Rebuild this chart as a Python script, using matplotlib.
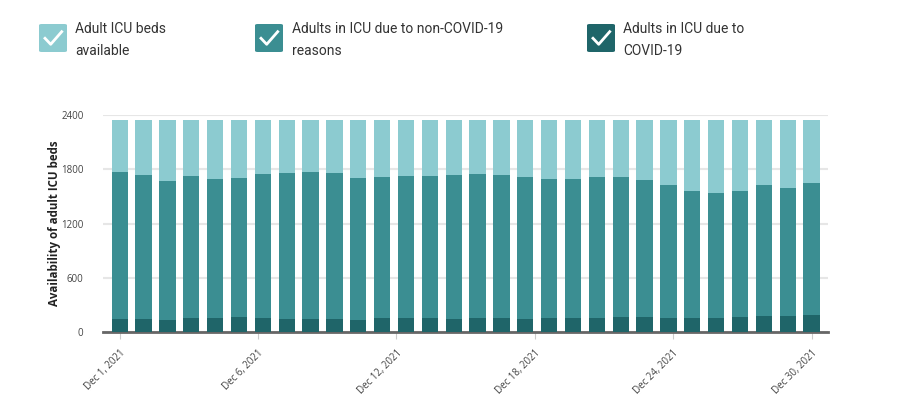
import matplotlib
matplotlib.use("Agg")
import matplotlib.pyplot as plt
from matplotlib.patches import FancyBboxPatch
from matplotlib.lines import Line2D

plt.rcParams['font.family'] = ['Open Sans', 'DejaVu Sans']

# data (Dec 1 - Dec 30, 2021)
days = list(range(1, 31))
covid = [144, 144, 133, 155, 155, 163, 152, 144, 144, 144, 130, 152, 155, 155, 141,
         152, 152, 141, 155, 152, 152, 163, 163, 155, 152, 152, 166, 177, 177, 185]
non_covid = [1629, 1592, 1540, 1567, 1534, 1544, 1599, 1618, 1629, 1618, 1573, 1562, 1570, 1574, 1595,
             1599, 1584, 1573, 1537, 1540, 1566, 1555, 1521, 1474, 1407, 1385, 1389, 1448, 1419, 1463]
available = [572, 609, 672, 623, 656, 638, 594, 583, 572, 583, 642, 631, 620, 616, 609,
             594, 609, 631, 653, 653, 627, 627, 661, 716, 786, 808, 790, 720, 749, 697]
tick_pos = [0, 5.8, 11.6, 17.4, 23.2, 29]
tick_labels = ["Dec 1, 2021", "Dec 6, 2021", "Dec 12, 2021", "Dec 18, 2021", "Dec 24, 2021", "Dec 30, 2021"]
yticks = [0, 600, 1200, 1800, 2400]

c_light = "#8ccbd0"
c_mid = "#3b8e92"
c_dark = "#1f6569"

W, H = 908, 408
fig = plt.figure(figsize=(W / 100, H / 100), dpi=100)
ax = fig.add_axes([103 / W, 1 - 332 / H, (828 - 103) / W, (332 - 115) / H])

x = list(range(len(days)))
bw = 0.68
bottom2 = [a + b for a, b in zip(covid, non_covid)]
ax.bar(x, covid, width=bw, color=c_dark, zorder=3)
ax.bar(x, non_covid, width=bw, bottom=covid, color=c_mid, zorder=3)
ax.bar(x, available, width=bw, bottom=bottom2, color=c_light, zorder=3)

ax.set_xlim(-0.7, 29.69)
ax.set_ylim(0, 2400)
ax.set_yticks(yticks)
ax.set_yticklabels([str(v) for v in yticks], fontsize=7, color="#444444")
ax.set_xticks(tick_pos)
ax.set_xticklabels(tick_labels, fontsize=7, color="#444444", rotation=45,
                   ha="right", va="top", rotation_mode="anchor")
ax.tick_params(axis="y", length=0, pad=14)
ax.tick_params(axis="x", length=5, color="#cccccc", pad=6)
ax.yaxis.grid(True, color="#e6e6e6", linewidth=1.5, zorder=0)
for s in ["left", "right", "top"]:
    ax.spines[s].set_visible(False)
ax.spines["bottom"].set_color("#666666")
ax.spines["bottom"].set_linewidth(2)
ax.set_ylabel("Availability of adult ICU beds", fontsize=8.3, fontweight="bold",
              color="#222222", labelpad=0)

# legend: checkbox squares with labels
items = [
    (39, c_light, 75, ["Adult ICU beds", "available"]),
    (255, c_mid, 292, ["Adults in ICU due to non-COVID-19", "reasons"]),
    (587, c_dark, 623, ["Adults in ICU due to", "COVID-19"]),
]
for sx, col, tx, lines in items:
    box = FancyBboxPatch((sx / W, 1 - 52 / H), 28 / W, 28 / H,
                         boxstyle="round,pad=0,rounding_size=0.003",
                         transform=fig.transFigure, facecolor=col, edgecolor="none")
    fig.add_artist(box)
    px = [sx + 6, sx + 11.7, sx + 22.7]
    py = [24 + 14.3, 24 + 20.3, 24 + 7.7]
    fig.add_artist(Line2D([p / W for p in px], [1 - p / H for p in py],
                          transform=fig.transFigure, color="white", linewidth=2))
    for i, t in enumerate(lines):
        fig.text(tx / W, 1 - (33 + 22 * i) / H, t, fontsize=10, color="#333333",
                 va="baseline", ha="left", family=["Roboto", "DejaVu Sans"])

fig.savefig("out.png", dpi=100)
